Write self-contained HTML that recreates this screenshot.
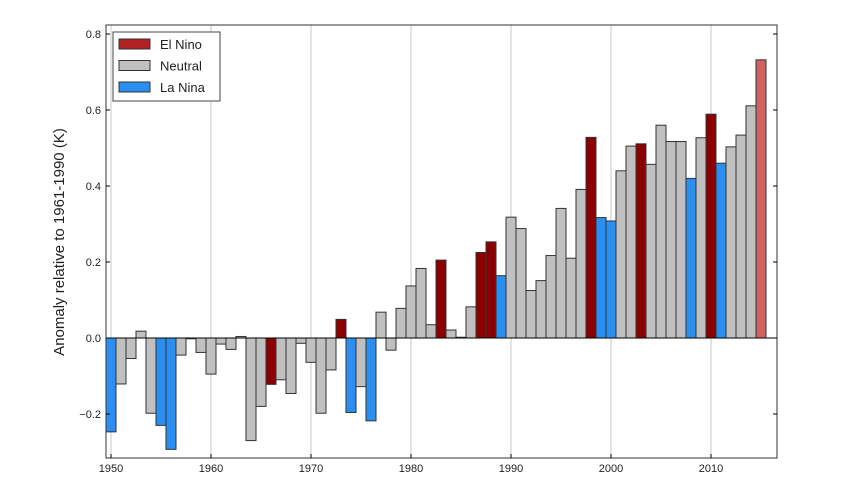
<!DOCTYPE html>
<html><head><meta charset="utf-8"><style>
body{margin:0;background:#fff;}
svg{display:block;font-family:"Liberation Sans","DejaVu Sans",sans-serif;}
</style></head><body>
<svg id="chart" width="857" height="482">
<rect x="0" y="0" width="857" height="482" fill="#fff"/>
<g id="grid"></g><g id="bars"></g><g id="axes"></g>
</svg>
<script>
const years = [];
for (let y = 1950; y <= 2015; y++) years.push(y);
const anomalies = [-0.247,-0.121,-0.054,0.018,-0.198,-0.23,-0.293,-0.045,-0.002,-0.038,
-0.095,-0.016,-0.03,0.004,-0.27,-0.18,-0.122,-0.11,-0.146,-0.014,
-0.064,-0.198,-0.084,0.049,-0.196,-0.128,-0.218,0.068,-0.032,0.078,
0.137,0.183,0.035,0.205,0.021,0.002,0.082,0.225,0.253,0.164,
0.318,0.288,0.125,0.151,0.217,0.341,0.21,0.391,0.528,0.317,
0.308,0.44,0.505,0.511,0.457,0.56,0.517,0.517,0.42,0.527,
0.589,0.46,0.503,0.534,0.611,0.732];
const elNinoYears = [1966,1973,1983,1987,1988,1998,2003,2010];
const laNinaYears = [1950,1955,1956,1974,1976,1989,1999,2000,2008,2011];
const provisionalYears = [2015];
const xTicks = [1950,1960,1970,1980,1990,2000,2010];
const yTicks = [-0.2,0.0,0.2,0.4,0.6,0.8];
const yTickLabels = ["\u22120.2","0.0","0.2","0.4","0.6","0.8"];
const legendLabels = ["El Nino","Neutral","La Nina"];

const L=106,R=777,T=25,B=458;
const X0=1949.5, X1=2016.6;
const xs = v => L + (v-X0)/(X1-X0)*(R-L);
const ys = v => 338 - v*380;
const colors = {E:"#8b0000",N:"#c0c0c0",L:"#2a8ff0",P:"#d06262"};
function phaseOf(yr){
  if (provisionalYears.includes(yr)) return 'P';
  if (elNinoYears.includes(yr)) return 'E';
  if (laNinaYears.includes(yr)) return 'L';
  return 'N';
}
const NS="http://www.w3.org/2000/svg";
function mk(tag, attrs, parent){const e=document.createElementNS(NS,tag);for(const k in attrs)e.setAttribute(k,attrs[k]);parent.appendChild(e);return e;}
const grid=document.getElementById('grid'), bars=document.getElementById('bars'), axes=document.getElementById('axes');

xTicks.forEach(t=>{
  const gl=mk('line',{x1:xs(t),x2:xs(t),y1:T,y2:B,stroke:'#d0d0d0','stroke-width':1.2},grid);
  
  
});
years.forEach((yr,i)=>{
  const v=anomalies[i];
  const y0=ys(0), y1=ys(v);
  const r=mk('rect',{x:xs(yr-0.5),y:Math.min(y0,y1),width:xs(yr+0.5)-xs(yr-0.5),height:Math.max(Math.abs(y1-y0),0.5),fill:colors[phaseOf(yr)],stroke:'#333','stroke-width':1},bars);
  
  
});
const zl=mk('line',{x1:L,x2:R,y1:ys(0),y2:ys(0),stroke:'#000','stroke-width':1},axes);


const frame=mk('rect',{x:L,y:T,width:R-L,height:B-T,fill:'none',stroke:'#333','stroke-width':1},axes);


xTicks.forEach(t=>{
  mk('line',{x1:xs(t),x2:xs(t),y1:B,y2:B-4,stroke:'#000'},axes);
  const tx=mk('text',{x:xs(t),y:B+14,'text-anchor':'middle','font-size':11,fill:'#222'},axes);
  tx.textContent=t;
  
  
});
yTicks.forEach((t,i)=>{
  mk('line',{x1:L,x2:L+4,y1:ys(t),y2:ys(t),stroke:'#000'},axes);
  mk('line',{x1:R,x2:R-4,y1:ys(t),y2:ys(t),stroke:'#000'},axes);
  const tx=mk('text',{x:L-5,y:ys(t)+4,'text-anchor':'end','font-size':11,fill:'#222'},axes);
  tx.textContent=yTickLabels[i];
  
  
});
const yl=mk('text',{x:0,y:0,transform:'translate(64,242) rotate(-90)','text-anchor':'middle','font-size':15,fill:'#222'},axes);
yl.textContent='Anomaly relative to 1961-1990 (K)';



const lg=mk('g',{},axes);


mk('rect',{x:113,y:32,width:107,height:69,fill:'#fff',stroke:'#444','stroke-width':1},lg);
const legColors=['#b22222',colors.N,colors.L];
legendLabels.forEach((lab,i)=>{
  const yy=39+i*21.5;
  const p=mk('rect',{x:119,y:yy,width:31,height:10,fill:legColors[i],stroke:'#333'},lg);
  
  
  const t=mk('text',{x:160,y:yy+10,'font-size':13,fill:'#222'},lg);
  t.textContent=lab;
  
  
});
</script>
</body></html>
